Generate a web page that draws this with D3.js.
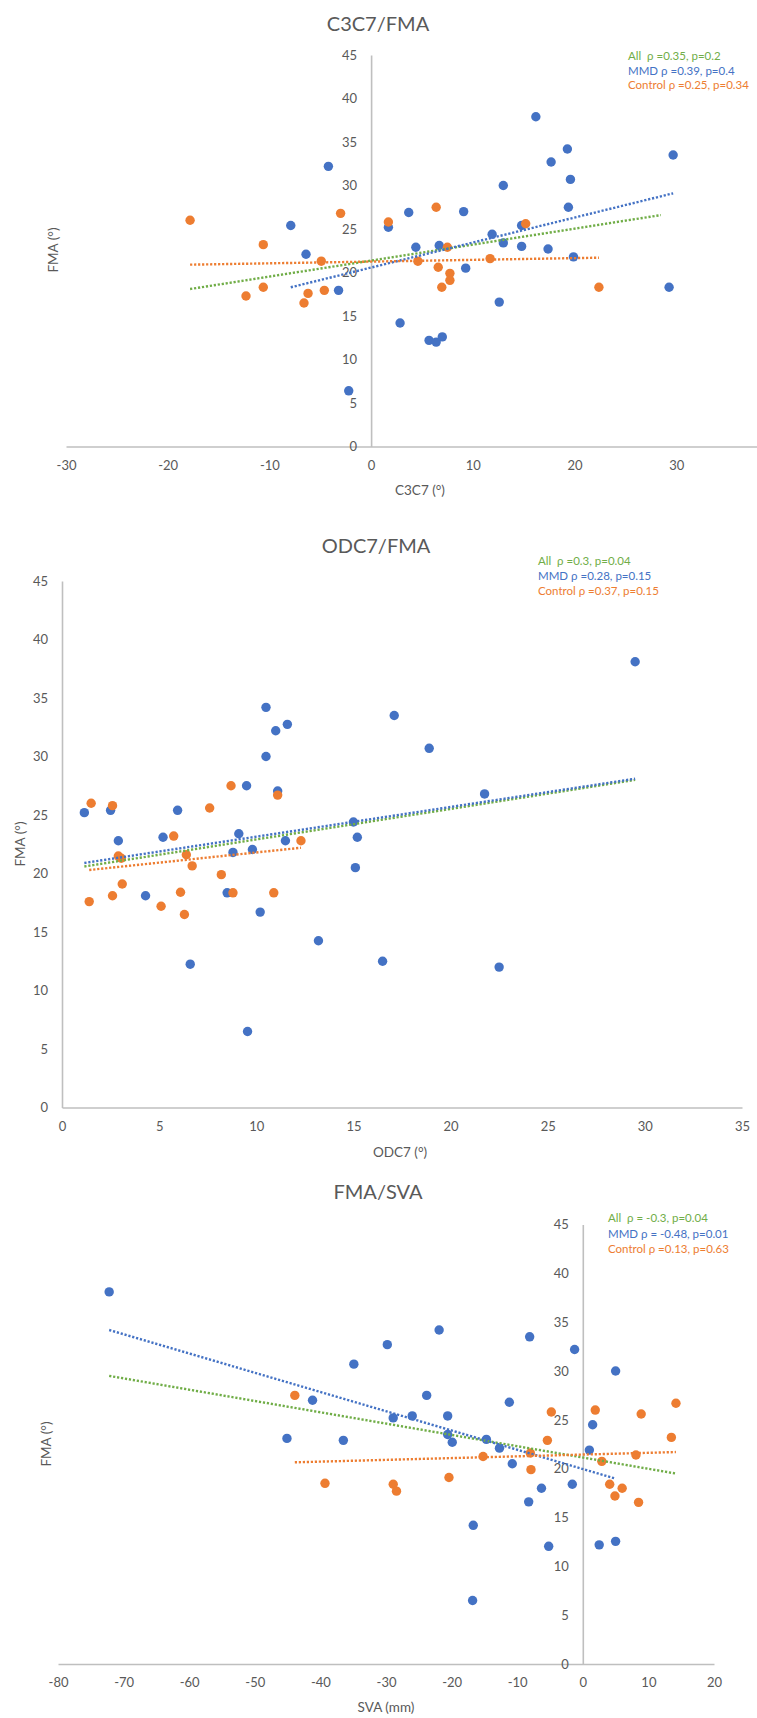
<!DOCTYPE html>
<html><head><meta charset="utf-8">
<script src="https://cdn.jsdelivr.net/npm/d3@7"></script>
<style>
body{margin:0;background:#fff}
svg{display:block;font-family:Lato,"Open Sans",sans-serif}
</style>
</head><body>
<svg id="chart" width="757" height="1718"></svg>
<script>
// ---------- Panel 1: C3C7 / FMA ----------
const c3c7MmdX = [16.2, 29.7, 19.3, 17.7, -4.2, 19.6, 13.0, 19.4, 9.1, 3.7, -7.9, 1.7, 14.8, 11.9, 13.0, 4.4, 6.7, 14.8, 17.4, -6.4, 19.9, -3.2, 9.3, 12.6, 29.3, 2.85, 5.7, 6.4, 7.0, -2.2];
const c3c7MmdY = [37.9, 33.5, 34.2, 32.7, 32.2, 30.7, 30.0, 27.5, 27.0, 26.9, 25.4, 25.2, 25.4, 24.4, 23.4, 22.9, 23.1, 23.0, 22.7, 22.1, 21.8, 17.95, 20.5, 16.6, 18.3, 14.2, 12.2, 12.0, 12.6, 6.4];
const c3c7CtrlX = [-17.8, -10.6, -3.0, 1.7, 6.4, 15.2, 7.5, -4.9, 4.6, 6.6, 11.7, 7.75, 7.75, 6.95, -12.3, -10.6, -6.2, -6.6, -4.6, 22.4];
const c3c7CtrlY = [26.0, 23.2, 26.8, 25.8, 27.5, 25.6, 22.9, 21.3, 21.3, 20.6, 21.6, 19.9, 19.1, 18.3, 17.3, 18.3, 17.6, 16.5, 17.95, 18.3];
const c3c7TrendAll  = [[-17.8, 18.1], [28.5, 26.6]];
const c3c7TrendMmd  = [[-7.9, 18.3], [29.7, 29.1]];
const c3c7TrendCtrl = [[-17.8, 20.9], [22.4, 21.7]];
const c3c7XTicks = [-30, -20, -10, 0, 10, 20, 30];
const c3c7Legend = ["All  \u03c1 =0.35, p=0.2", "MMD \u03c1 =0.39, p=0.4", "Control \u03c1 =0.25, p=0.34"];

// ---------- Panel 2: ODC7 / FMA ----------
const odc7MmdX = [29.5, 10.5, 11.0, 11.6, 17.1, 18.9, 10.5, 9.5, 11.1, 21.75, 1.15, 2.5, 5.95, 15.0, 9.1, 15.2, 5.2, 2.9, 11.5, 4.3, 8.8, 9.8, 8.5, 10.2, 15.1, 13.2, 6.6, 16.5, 22.5, 9.55];
const odc7MmdY = [38.1, 34.2, 32.2, 32.75, 33.5, 30.7, 30.0, 27.5, 27.05, 26.8, 25.2, 25.4, 25.4, 24.4, 23.4, 23.1, 23.1, 22.8, 22.8, 18.1, 21.8, 22.05, 18.35, 16.7, 20.5, 14.25, 12.25, 12.5, 12.0, 6.5];
const odc7CtrlX = [8.7, 1.5, 2.6, 7.6, 11.1, 5.75, 12.3, 2.9, 3.05, 6.4, 6.7, 8.2, 3.1, 1.4, 2.6, 5.1, 6.1, 6.3, 8.8, 10.9];
const odc7CtrlY = [27.5, 26.0, 25.8, 25.6, 26.7, 23.2, 22.8, 21.5, 21.3, 21.6, 20.65, 19.9, 19.1, 17.6, 18.1, 17.2, 18.4, 16.5, 18.35, 18.35];
const odc7TrendAll  = [[1.15, 20.6], [29.5, 28.0]];
const odc7TrendMmd  = [[1.15, 20.9], [29.5, 28.1]];
const odc7TrendCtrl = [[1.4, 20.3], [12.3, 22.2]];
const odc7XTicks = [0, 5, 10, 15, 20, 25, 30, 35];
const odc7Legend = ["All  \u03c1 =0.3, p=0.04", "MMD \u03c1 =0.28, p=0.15", "Control \u03c1 =0.37, p=0.15"];

// ---------- Panel 3: FMA / SVA ----------
const svaMmdX = [-72.2, -21.9, -29.8, -8.1, -1.25, -34.9, 5.0, -23.8, -41.2, -11.2, -28.9, -26.0, -20.6, 1.5, -45.1, -36.5, -20.6, -19.9, -14.7, -12.7, 1.0, -10.75, -1.6, -6.3, -8.25, -16.7, -5.2, 2.5, 5.0, -16.8];
const svaMmdY = [38.1, 34.2, 32.7, 33.5, 32.2, 30.7, 30.0, 27.5, 27.0, 26.8, 25.2, 25.4, 25.4, 24.5, 23.1, 22.9, 23.5, 22.7, 23.0, 22.1, 21.9, 20.5, 18.4, 18.0, 16.6, 14.2, 12.05, 12.2, 12.56, 6.5];
const svaCtrlX = [-43.9, -4.8, 1.9, 8.9, 14.2, -5.4, 13.5, -15.2, -8.0, 8.1, 2.9, -7.9, -20.4, -39.3, -28.9, -28.4, 4.1, 6.0, 4.9, 8.5];
const svaCtrlY = [27.5, 25.8, 26.0, 25.6, 26.7, 22.9, 23.2, 21.25, 21.6, 21.4, 20.75, 19.9, 19.1, 18.5, 18.4, 17.7, 18.4, 18.0, 17.2, 16.55];
const svaTrendAll  = [[-72.2, 29.5], [14.2, 19.5]];
const svaTrendMmd  = [[-72.2, 34.2], [4.9, 19.0]];
const svaTrendCtrl = [[-43.9, 20.65], [14.2, 21.7]];
const svaXTicks = [-80, -70, -60, -50, -40, -30, -20, -10, 0, 10, 20];
const svaLegend = ["All  \u03c1 = -0.3, p=0.04", "MMD \u03c1 = -0.48, p=0.01", "Control \u03c1 =0.13, p=0.63"];

const fmaYTicks = [0, 5, 10, 15, 20, 25, 30, 35, 40, 45];

const COL_ALL = "#70AD47", COL_MMD = "#4472C4", COL_CTRL = "#ED7D31";
const AXIS_COL = "#BFBFBF", TXT_COL = "#595959";

const svg = d3.select("#chart");
svg.append("rect").attr("width", 757).attr("height", 1718).attr("fill", "#fff");

function drawPanel(cfg) {
  const g = svg.append("g");
  const x = d3.scaleLinear().domain(cfg.xDomain).range(cfg.xRange);
  const y = d3.scaleLinear().domain([0, 45]).range(cfg.yRange);
  const x0 = x(0), y0 = y(0);
  const fmt = d => String(d);

  // x axis
  const xa = g.append("g").attr("transform", `translate(0,${y0})`)
    .call(d3.axisBottom(x).tickValues(cfg.xTicks).tickSize(0).tickPadding(14).tickFormat(fmt));
  xa.select(".domain").attr("stroke", AXIS_COL).attr("stroke-width", 1.6);
  xa.selectAll("text").attr("fill", TXT_COL).attr("font-size", 13).attr("font-family", "Lato");

  // y axis
  const ya = g.append("g").attr("transform", `translate(${x0},0)`)
    .call(d3.axisLeft(y).tickValues(fmaYTicks).tickSize(0).tickPadding(14).tickFormat(fmt));
  ya.select(".domain").attr("stroke", AXIS_COL).attr("stroke-width", 1.6);
  ya.selectAll("text").attr("fill", TXT_COL).attr("font-size", 13).attr("font-family", "Lato");

  // points
  const mmd = cfg.mmdX.map((v, i) => [v, cfg.mmdY[i]]);
  const ctrl = cfg.ctrlX.map((v, i) => [v, cfg.ctrlY[i]]);
  g.append("g").selectAll("circle").data(mmd).join("circle")
    .attr("cx", d => x(d[0])).attr("cy", d => y(d[1])).attr("r", 4.7).attr("fill", COL_MMD);
  g.append("g").selectAll("circle").data(ctrl).join("circle")
    .attr("cx", d => x(d[0])).attr("cy", d => y(d[1])).attr("r", 4.7).attr("fill", COL_CTRL);

  // trend lines
  const line = d3.line().x(d => x(d[0])).y(d => y(d[1]));
  [[cfg.trendAll, COL_ALL], [cfg.trendMmd, COL_MMD], [cfg.trendCtrl, COL_CTRL]].forEach(([t, c]) => {
    g.append("path").attr("d", line(t)).attr("fill", "none").attr("stroke", c)
      .attr("stroke-width", 2.4).attr("stroke-dasharray", "2.2,1.8");
  });

  // titles
  g.append("text").attr("x", cfg.title[1]).attr("y", cfg.title[2]).attr("text-anchor", "middle")
    .attr("font-size", 20).attr("fill", TXT_COL).text(cfg.title[0]);
  g.append("text").attr("x", cfg.xTitle[1]).attr("y", cfg.xTitle[2]).attr("text-anchor", "middle")
    .attr("font-size", 13.5).attr("fill", TXT_COL).text(cfg.xTitle[0]);
  g.append("text").attr("transform", `translate(${cfg.yTitle[1]},${cfg.yTitle[2]}) rotate(-90)`)
    .attr("text-anchor", "middle").attr("dy", "0.35em")
    .attr("font-size", 13.5).attr("fill", TXT_COL).text("FMA (\u00b0)");

  // legend
  const lc = [COL_ALL, COL_MMD, COL_CTRL];
  cfg.legend.forEach((s, i) => {
    g.append("text").attr("x", cfg.legendX).attr("y", cfg.legendY[i])
      .attr("font-size", 11.5).attr("fill", lc[i]).style("white-space", "pre").text(s);
  });
}

drawPanel({
  xDomain: [-30, 40], xRange: [66, 66 + 70 * 10.17], yRange: [446.5, 55],
  xTicks: c3c7XTicks, mmdX: c3c7MmdX, mmdY: c3c7MmdY, ctrlX: c3c7CtrlX, ctrlY: c3c7CtrlY,
  trendAll: c3c7TrendAll, trendMmd: c3c7TrendMmd, trendCtrl: c3c7TrendCtrl,
  title: ["C3C7/FMA", 378, 31], xTitle: ["C3C7 (\u00b0)", 420, 495], yTitle: [null, 53, 250],
  legend: c3c7Legend, legendX: 628, legendY: [60, 74.5, 89]
});
drawPanel({
  xDomain: [0, 35], xRange: [62, 742], yRange: [1107.5, 581],
  xTicks: odc7XTicks, mmdX: odc7MmdX, mmdY: odc7MmdY, ctrlX: odc7CtrlX, ctrlY: odc7CtrlY,
  trendAll: odc7TrendAll, trendMmd: odc7TrendMmd, trendCtrl: odc7TrendCtrl,
  title: ["ODC7/FMA", 376, 553], xTitle: ["ODC7 (\u00b0)", 400, 1157], yTitle: [null, 20, 844],
  legend: odc7Legend, legendX: 538, legendY: [565, 580, 595]
});
drawPanel({
  xDomain: [-80, 20], xRange: [58, 714], yRange: [1664, 1224.5],
  xTicks: svaXTicks, mmdX: svaMmdX, mmdY: svaMmdY, ctrlX: svaCtrlX, ctrlY: svaCtrlY,
  trendAll: svaTrendAll, trendMmd: svaTrendMmd, trendCtrl: svaTrendCtrl,
  title: ["FMA/SVA", 378, 1199], xTitle: ["SVA (mm)", 386, 1712], yTitle: [null, 46, 1444],
  legend: svaLegend, legendX: 608, legendY: [1222, 1238, 1253]
});
</script>
</body></html>
